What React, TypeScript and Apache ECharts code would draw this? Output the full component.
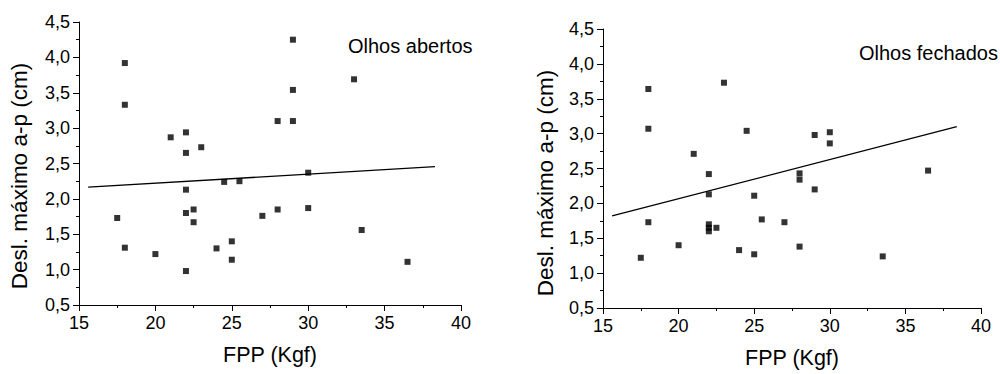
import React, { useEffect, useRef } from "react";
import * as echarts from "echarts";

// Olhos abertos (eyes open)
const openX = [18, 18, 21, 22, 22, 23, 24.5, 25.5, 29, 33, 29, 28, 29, 30, 17.5, 18, 20, 22, 22, 22.5, 22.5, 22, 24, 25, 25, 27, 28, 30, 33.5, 36.5];
const openY = [3.92, 3.33, 2.87, 2.94, 2.65, 2.73, 2.24, 2.25, 4.25, 3.69, 3.54, 3.10, 3.10, 2.37, 1.73, 1.31, 1.22, 2.13, 1.80, 1.85, 1.67, 0.98, 1.30, 1.40, 1.14, 1.76, 1.85, 1.87, 1.56, 1.11];
const openFitX = [15.6, 38.3];
const openFitY = [2.165, 2.455];

// Olhos fechados (eyes closed)
const closedX = [18, 18, 23, 24.5, 21, 22, 29, 30, 30, 36.5, 28, 28, 17.5, 18, 20, 22, 22, 22, 22.5, 24, 25, 25.5, 27, 25, 28, 29, 33.5, 22];
const closedY = [3.64, 3.07, 3.73, 3.04, 2.71, 2.42, 2.98, 3.02, 2.86, 2.47, 2.43, 2.34, 1.22, 1.73, 1.40, 2.13, 1.70, 1.60, 1.65, 1.33, 2.11, 1.77, 1.73, 1.27, 1.38, 2.20, 1.24, 1.65];
const closedFitX = [15.6, 38.4];
const closedFitY = [1.82, 3.10];

const xTicks = { min: 15, max: 40, interval: 5 };
const yTicks = { min: 0.5, max: 4.5, interval: 0.5 };

const xTitle = "FPP (Kgf)";
const yTitle = "Desl. máximo a-p (cm)";
const panelLabels = ["Olhos abertos", "Olhos fechados"];

const FONT = "Liberation Sans, Arial, sans-serif";

function zip(xs: number[], ys: number[]) {
  return xs.map((x, i) => [x, ys[i]]);
}

function xAxis(gridIndex: number) {
  return {
    type: "value",
    gridIndex,
    min: xTicks.min,
    max: xTicks.max,
    interval: xTicks.interval,
    name: xTitle,
    nameLocation: "middle",
    nameGap: 39,
    nameTextStyle: { fontFamily: FONT, fontSize: 21.5, color: "#000" },
    axisLine: { show: true, onZero: false, lineStyle: { color: "#000", width: 1 } },
    axisTick: { show: true, inside: false, length: 6, lineStyle: { color: "#000" } },
    minorTick: { show: true, splitNumber: 2, length: 3, lineStyle: { color: "#000" } },
    splitLine: { show: false },
    axisLabel: { fontFamily: FONT, fontSize: 18, color: "#000", margin: 9 },
  };
}

function yAxis(gridIndex: number) {
  return {
    type: "value",
    gridIndex,
    min: yTicks.min,
    max: yTicks.max,
    interval: yTicks.interval,
    axisLine: { show: true, onZero: false, lineStyle: { color: "#000", width: 1 } },
    axisTick: { show: true, inside: false, length: 6, lineStyle: { color: "#000" } },
    minorTick: { show: true, splitNumber: 2, length: 3, lineStyle: { color: "#000" } },
    splitLine: { show: false },
    axisLabel: {
      fontFamily: FONT,
      fontSize: 18,
      color: "#000",
      margin: 9,
      formatter: (v: number) => v.toFixed(1).replace(".", ","),
    },
  };
}

function scatter(idx: number, data: number[][]) {
  return {
    type: "scatter",
    xAxisIndex: idx,
    yAxisIndex: idx,
    data,
    symbol: "rect",
    symbolSize: 6,
    itemStyle: { color: "#000" },
  };
}

function fit(idx: number, data: number[][]) {
  return {
    type: "line",
    xAxisIndex: idx,
    yAxisIndex: idx,
    data,
    showSymbol: false,
    symbol: "none",
    lineStyle: { color: "#000", width: 1.3 },
  };
}

export default function App() {
  const ref = useRef<HTMLDivElement>(null);
  useEffect(() => {
    document.body.style.margin = "0";
    const chart = echarts.init(ref.current!, undefined, { renderer: "svg" });
    chart.setOption({
      animation: false,
      backgroundColor: "#fff",
      grid: [
        { left: 79, top: 22, width: 382, height: 283 },
        { left: 603, top: 29, width: 378, height: 280 },
      ],
      xAxis: [xAxis(0), xAxis(1)],
      yAxis: [yAxis(0), yAxis(1)],
      series: [
        scatter(0, zip(openX, openY)),
        fit(0, zip(openFitX, openFitY)),
        scatter(1, zip(closedX, closedY)),
        fit(1, zip(closedFitX, closedFitY)),
      ],
      graphic: [
        {
          type: "text",
          left: 348,
          top: 36,
          style: { text: panelLabels[0], fontFamily: FONT, fontSize: 20, fill: "#000" },
        },
        {
          type: "text",
          left: 859,
          top: 43,
          style: { text: panelLabels[1], fontFamily: FONT, fontSize: 20, fill: "#000" },
        },
        {
          type: "text",
          x: 19,
          y: 176,
          rotation: Math.PI / 2,
          style: {
            text: yTitle,
            fontFamily: FONT,
            fontSize: 22.5,
            fill: "#000",
            align: "center",
            verticalAlign: "middle",
          },
        },
        {
          type: "text",
          x: 545,
          y: 183,
          rotation: Math.PI / 2,
          style: {
            text: yTitle,
            fontFamily: FONT,
            fontSize: 22.5,
            fill: "#000",
            align: "center",
            verticalAlign: "middle",
          },
        },
      ],
    });
    return () => chart.dispose();
  }, []);
  return <div ref={ref} style={{ width: 1000, height: 374 }} />;
}
